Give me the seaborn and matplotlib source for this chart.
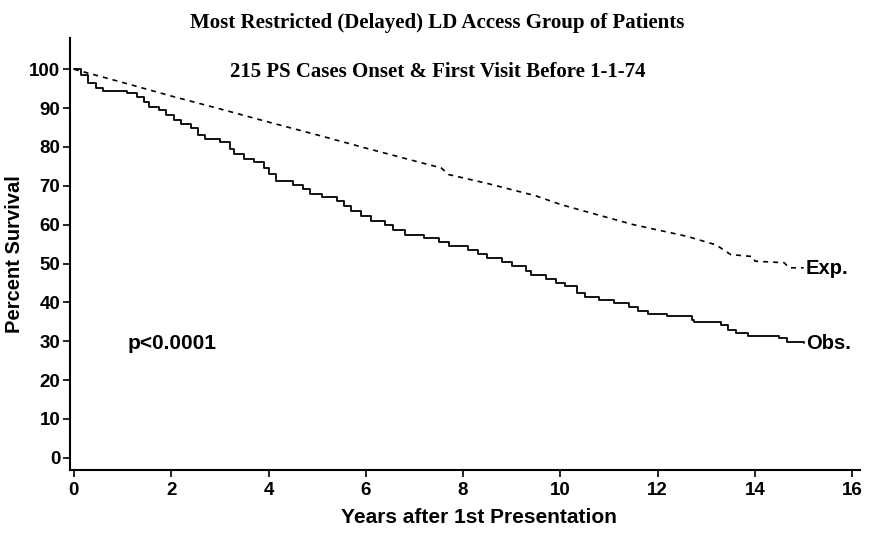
import matplotlib
matplotlib.use("Agg")
import matplotlib.pyplot as plt
import seaborn as sns
import pandas as pd

# Observed survival (Kaplan-Meier style steps), years vs percent
obs_years = [0, 0.15, 0.3, 0.45, 0.6, 1.1, 1.3, 1.45, 1.55, 1.75, 1.9, 2.05, 2.2, 2.4, 2.55,
             2.7, 3.0, 3.2, 3.3, 3.5, 3.7, 3.9, 4.0, 4.15, 4.5, 4.7, 4.85, 5.1, 5.4, 5.55,
             5.7, 5.9, 6.1, 6.4, 6.55, 6.8, 7.2, 7.5, 7.7, 8.1, 8.3, 8.5, 8.8, 9.0, 9.3,
             9.4, 9.7, 9.9, 10.1, 10.35, 10.5, 10.8, 11.1, 11.4, 11.6, 11.8, 12.2, 12.7,
             12.75, 13.3, 13.45, 13.6, 13.85, 14.5, 14.65, 15.0]
obs_pct = [100, 98.5, 96.5, 95.2, 94.5, 94.0, 92.8, 91.5, 90.2, 89.5, 88.2, 87.0, 86.0, 84.8, 83.0,
           82.0, 81.2, 79.5, 78.2, 77.0, 76.0, 74.5, 73.0, 71.2, 70.2, 69.2, 68.0, 67.2, 66.2, 64.8,
           63.5, 62.2, 61.0, 60.0, 58.5, 57.3, 56.6, 55.5, 54.4, 53.6, 52.5, 51.3, 50.3, 49.3, 48.0,
           47.0, 46.0, 45.0, 44.2, 42.5, 41.5, 40.6, 39.8, 38.8, 37.8, 37.0, 36.6, 35.5,
           34.9, 34.2, 33.0, 32.2, 31.3, 30.8, 29.8, 29.6]

# Expected survival
exp_years = [0, 1, 2, 3, 4, 5, 6, 7, 7.55, 7.7, 8.5, 9.5, 10.0, 10.6, 11.5, 12.6, 13.2,
             13.5, 13.95, 14.0, 14.6, 14.7, 15.0]
exp_pct = [100, 96.6, 93.1, 89.8, 86.4, 83.1, 79.7, 76.4, 74.6, 72.9, 70.6, 67.4, 65.2, 63.1,
           60.0, 57.0, 54.8, 52.3, 51.8, 50.6, 50.2, 48.9, 48.9]

x_ticks = [0, 2, 4, 6, 8, 10, 12, 14, 16]
y_ticks = [0, 10, 20, 30, 40, 50, 60, 70, 80, 90, 100]

title = "Most Restricted (Delayed) LD Access Group of Patients"
subtitle = "215 PS Cases Onset & First Visit Before 1-1-74"
x_label = "Years after 1st Presentation"
y_label = "Percent Survival"
p_text = "p<0.0001"
exp_label = "Exp."
obs_label = "Obs."

sns.set_theme(style="ticks")
plt.rcParams["font.family"] = ["Liberation Sans", "DejaVu Sans"]
plt.rcParams["text.color"] = "black"
plt.rcParams["axes.labelcolor"] = "black"

obs_df = pd.DataFrame({"years": obs_years, "pct": obs_pct})
exp_df = pd.DataFrame({"years": exp_years, "pct": exp_pct})

fig = plt.figure(figsize=(8.75, 5.37), dpi=100)
ax = fig.add_axes([0.080, 0.125, 0.903, 0.804])

sns.lineplot(data=obs_df, x="years", y="pct", ax=ax, color="black", linewidth=1.3,
             drawstyle="steps-post", estimator=None, sort=False)
sns.lineplot(data=exp_df, x="years", y="pct", ax=ax, color="black", linewidth=1.2,
             linestyle=(0, (3, 3)), estimator=None, sort=False)

ax.set_xlim(-0.08, 16.16)
ax.set_ylim(-3.1, 108)
ax.set_xticks(x_ticks)
ax.set_yticks(y_ticks)
ax.tick_params(axis="both", labelsize=13.5, width=1.2, length=5, colors="black")
ax.tick_params(axis="y", pad=2)
for lab in ax.get_xticklabels() + ax.get_yticklabels():
    lab.set_fontweight("bold")
sns.despine(ax=ax)
for s in ["left", "bottom"]:
    ax.spines[s].set_linewidth(1.5)
    ax.spines[s].set_color("black")

ax.set_xlabel(x_label, fontsize=15, fontweight="bold")
ax.xaxis.set_label_coords(0.518, -0.088)
ax.set_ylabel(y_label, fontsize=14.5, fontweight="bold", labelpad=4)

ax.text(exp_years[-1] + 0.05, exp_pct[-1] - 0.3, exp_label, fontsize=14.5, fontweight="bold",
        va="center", ha="left")
ax.text(obs_years[-1] + 0.05, obs_pct[-1] - 0.3, obs_label, fontsize=14.5, fontweight="bold",
        va="center", ha="left")
ax.text(1.1, 29.4, p_text, fontsize=15, fontweight="bold", va="center", ha="left")

fig.text(0.5, 0.957, title, ha="center", va="center", fontsize=15, fontweight="bold",
         family=["Liberation Serif", "DejaVu Serif"])
fig.text(0.5, 0.866, subtitle, ha="center", va="center", fontsize=15, fontweight="bold",
         family=["Liberation Serif", "DejaVu Serif"])

fig.savefig("out.png", dpi=100, facecolor="white")
